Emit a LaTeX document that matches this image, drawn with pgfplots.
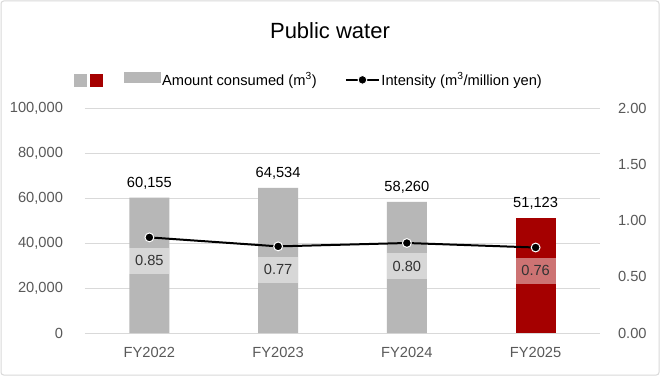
\documentclass[border=0pt]{standalone}
\usepackage{fontspec}
\setmainfont{Liberation Sans}
\usepackage{pgfplots}
\pgfplotsset{compat=1.18}
\definecolor{bargray}{HTML}{B7B7B7}
\definecolor{barred}{HTML}{A50000}
\definecolor{gridgray}{HTML}{D9D9D9}
\definecolor{ticktext}{HTML}{595959}
\pgfplotsset{/pgf/number format/assume math mode=true}
\begin{document}
\begin{tikzpicture}[x=1pt,y=1pt]
\useasboundingbox (0,0) rectangle (495,282);
\fill[white] (0,0) rectangle (495,282);
\draw[gridgray, line width=0.75pt, rounded corners=2pt] (0.75,0.75) rectangle (494.25,281.25);
\node[anchor=base, font=\fontsize{16.5}{19}\selectfont] at (247.5,253.5) {Public water};

\begin{axis}[
  at={(63.75pt,32.25pt)}, anchor=south west,
  scale only axis, width=386.25pt, height=168.75pt,
  xmin=-0.5, xmax=3.5, ymin=0, ymax=100000,
  xtick={0,1,2,3}, xticklabels={FY2022,FY2023,FY2024,FY2025},
  ytick={0,20000,40000,60000,80000,100000},
  scaled y ticks=false,
  axis line style={draw=none},
  major tick length=0pt,
  ymajorgrids, grid style={gridgray, line width=0.75pt},
  tick label style={font=\fontsize{11}{13}\selectfont, text=ticktext},
  yticklabel style={xshift=-13pt, /pgf/number format/fixed, /pgf/number format/1000 sep={,}},
  xticklabel style={yshift=-7.5pt},
  clip=false,
]
\addplot[ybar, bar width=30pt, bar shift=0pt, fill=bargray, draw=none,
  nodes near coords={\pgfmathprintnumber[fixed,1000 sep={,}]{\pgfplotspointmeta}},
  every node near coord/.append style={anchor=base, yshift=7.5pt, font=\fontsize{11}{13}\selectfont, text=black, inner sep=0pt}]
  coordinates {(0,60155) (1,64534) (2,58260)};
\addplot[ybar, bar width=30pt, bar shift=0pt, fill=barred, draw=none,
  nodes near coords={\pgfmathprintnumber[fixed,1000 sep={,}]{\pgfplotspointmeta}},
  every node near coord/.append style={anchor=base, yshift=7.5pt, font=\fontsize{11}{13}\selectfont, text=black, inner sep=0pt}]
  coordinates {(3,51123)};
\end{axis}

\begin{axis}[
  at={(63.75pt,32.25pt)}, anchor=south west,
  scale only axis, width=386.25pt, height=168.75pt,
  xmin=-0.5, xmax=3.5, ymin=0, ymax=2,
  axis x line=none,
  axis y line*=right,
  axis line style={draw=none},
  major tick length=0pt,
  ytick={0,0.5,1,1.5,2},
  tick label style={font=\fontsize{11}{13}\selectfont, text=ticktext},
  yticklabel style={xshift=10pt, /pgf/number format/fixed, /pgf/number format/fixed zerofill, /pgf/number format/precision=2},
  clip=false,
  legend columns=-1,
  legend style={draw=none, fill=none, at={(-0.029,1.125)}, anchor=west,
    font=\fontsize{11}{13}\selectfont,
    nodes={inner sep=1pt},
    /tikz/every even column/.append style={column sep=14pt}},
]
\addlegendimage{legend image code/.code={\fill[bargray] (0pt,-4.5pt) rectangle (9pt,4.5pt); \fill[barred] (12pt,-4.5pt) rectangle (21pt,4.5pt);}}
\addlegendentry{}
\addlegendimage{legend image code/.code={\fill[bargray] (0pt,-1.5pt) rectangle (27pt,5.5pt);}}
\addlegendentry{Amount consumed (m\textsuperscript{3})\hspace*{6pt}}
\addplot[black, line width=1.5pt, mark=*, mark size=3.3pt,
  mark options={fill=black, draw=white, line width=0.75pt},
  legend image code/.code={\draw[black, line width=1.5pt] (0pt,0pt) -- (25pt,0pt); \filldraw[fill=black, draw=white, line width=0.75pt] (12.5pt,0pt) circle (3.3pt);},
  nodes near coords={\pgfmathprintnumber[fixed,fixed zerofill,precision=2]{\pgfplotspointmeta}},
  every node near coord/.append style={anchor=center, yshift=-17.5pt, font=\fontsize{11}{13}\selectfont, text=black!80,
    fill=white, fill opacity=0.45, text opacity=1, minimum width=30pt, minimum height=19.5pt, inner sep=0pt}]
  coordinates {(0,0.85) (1,0.77) (2,0.80) (3,0.76)};
\addlegendentry{Intensity (m\textsuperscript{3}/million yen)}
\end{axis}
\end{tikzpicture}
\end{document}
